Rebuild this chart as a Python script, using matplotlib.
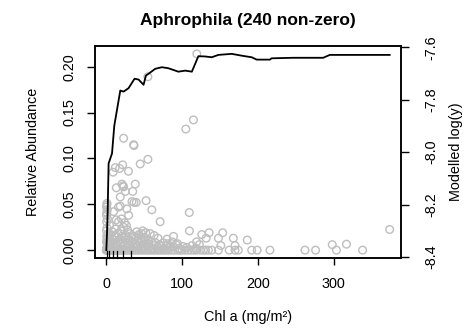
import matplotlib
matplotlib.use("Agg")
import matplotlib.pyplot as plt
import numpy as np

plt.rcParams["font.family"] = ["Liberation Sans", "DejaVu Sans"]
plt.rcParams["axes.unicode_minus"] = False

# ---- data ----
# non-zero abundances: scattered points above the dense band
chl_upper = [119.3, 54.8, 114.9, 104.8, 22.8, 36.0, 36.5, 54.8, 44.7, 21.5,
             11.8, 17.5, 29.2, 9.0, 38.2, 20.6, 22.0, 22.8, 13.2, 25.0,
             34.8, 18.4, 33.8, 36.5, 39.5, 52.4, 60.0, 9.6, 16.0, 18.4,
             27.0, 29.4, 13.0, 16.0, 20.0, 24.0, 26.5, 71.0, 109.4, 22.8,
             40.0, 46.5, 52.0, 57.9, 109.6, 125.9, 135.5, 131.6, 153.5, 147.8,
             167.5, 185.9, 151.0, 169.7, 122.8, 119.0, 298.0, 316.7, 373.7]
abund_upper = [0.214, 0.189, 0.142, 0.132, 0.122, 0.115, 0.114, 0.099, 0.094, 0.093,
               0.090, 0.089, 0.086, 0.085, 0.072, 0.072, 0.070, 0.069, 0.068, 0.064,
               0.064, 0.058, 0.053, 0.052, 0.052, 0.054, 0.044, 0.042, 0.047, 0.048,
               0.045, 0.038, 0.033, 0.031, 0.034, 0.030, 0.027, 0.031, 0.041, 0.025,
               0.020, 0.018, 0.019, 0.018, 0.021, 0.017, 0.019, 0.013, 0.019, 0.013,
               0.013, 0.011, 0.005, 0.005, 0.006, 0.009, 0.006, 0.0065, 0.0225]

# stack of points at chl ~ 0
chl_stack = [0.9, 0.5, 0.3, 1.2, 0.6, 0.2, 1.5, 0.4, 4.3, 0.8, 0.3, 2.5, 0.5, 1.0, 0.2]
abund_stack = [0.051, 0.049, 0.047, 0.044, 0.041, 0.038, 0.034, 0.031, 0.027, 0.024,
               0.021, 0.018, 0.015, 0.012, 0.009]

# dense band of small abundances
chl_band = [0.5, 2, 4, 6, 9, 12, 15, 18, 21, 24, 27, 30, 33, 36, 39, 42, 45, 48,
            51, 54, 57, 60, 64, 68, 72, 76, 80, 84, 88, 92, 96, 101, 106, 113, 118,
            1, 3, 5, 7.5, 10, 13, 16, 19, 22, 25, 28, 31, 34, 38, 41, 44, 47, 50,
            53, 56, 60, 65, 70, 75, 81, 87, 94,
            1.5, 4.5, 8, 11, 14, 17.5, 20, 23, 26, 29.5, 33, 37, 42, 46, 50, 55,
            8, 12, 15, 19, 28, 31, 34, 43, 48, 63, 68, 80, 88.6]
abund_band = [0.003, 0.005, 0.002, 0.004, 0.006, 0.003, 0.005, 0.002, 0.004, 0.006,
              0.003, 0.005, 0.002, 0.004, 0.003, 0.005, 0.002, 0.004, 0.003, 0.005,
              0.004, 0.002, 0.005, 0.003, 0.004, 0.002, 0.005, 0.003, 0.004, 0.006,
              0.002, 0.004, 0.003, 0.005, 0.002,
              0.008, 0.010, 0.007, 0.009, 0.011, 0.008, 0.010, 0.007, 0.009, 0.011,
              0.008, 0.010, 0.009, 0.007, 0.010, 0.008, 0.009, 0.011, 0.008, 0.007,
              0.009, 0.008, 0.006, 0.008, 0.007, 0.009, 0.007,
              0.013, 0.015, 0.012, 0.016, 0.014, 0.012, 0.015, 0.013, 0.016, 0.012,
              0.014, 0.015, 0.013, 0.012, 0.014, 0.011,
              0.020, 0.023, 0.018, 0.021, 0.022, 0.018, 0.016, 0.017, 0.021, 0.016,
              0.013, 0.012, 0.015]

# samples with zero abundance
chl_zero = [0, 0, 0.3, 0.6, 1, 1.5, 2, 3, 4, 5, 6.5, 8, 9.5, 11, 13, 15, 17, 19,
            21, 23.5, 26, 28.5, 31, 34, 37, 40, 43, 46, 49, 52, 55, 58, 61, 64, 67,
            70, 73, 76, 79, 82, 86, 90, 94, 97, 100, 104, 108, 112, 116, 119, 124,
            128, 131, 134.6, 139, 147.8, 162, 169.7, 174, 191.7, 199, 215.8, 262,
            276, 303.5, 338]

# modelled log(y) curve
curve_chl = [0, 0.9, 1.7, 3.0, 7.5, 10.5, 18.4, 22.8, 29.3, 37.2, 42.5, 49.1,
             52.2, 55.7, 64.5, 73.3, 82, 95, 104, 112.8, 121.4, 130.3, 139, 147.8,
             165.4, 178.6, 191.7, 198.3, 215.8, 218, 246.4, 286, 294.7, 373.7]
curve_logy = [-8.374, -8.310, -8.234, -8.043, -8.005, -7.899, -7.765, -7.769,
              -7.756, -7.720, -7.723, -7.743, -7.708, -7.701, -7.682, -7.676,
              -7.680, -7.693, -7.689, -7.693, -7.634, -7.635, -7.638, -7.629,
              -7.625, -7.632, -7.638, -7.647, -7.647, -7.642, -7.640, -7.640,
              -7.629, -7.629]

rug_chl = [1, 3, 8.5, 14, 21.5, 32.5]

x = np.array(chl_upper + chl_stack + chl_band + chl_zero)
y = np.array(abund_upper + abund_stack + abund_band + [0.0] * len(chl_zero))


def r_lim(lo, hi):
    pad = 0.04 * (hi - lo)
    return lo - pad, hi + pad


W, H = 474, 328
fig = plt.figure(figsize=(W / 100, H / 100), dpi=100)
ax = fig.add_axes([95 / W, 1 - 258 / H, 306 / W, 212 / H])

ax.scatter(x, y, s=30, facecolors="none", edgecolors="#bebebe", linewidths=1.0)
ax.set_xlim(*r_lim(0, max(x.max(), max(curve_chl))))
ax.set_ylim(*r_lim(0, y.max()))
ax.set_xticks([0, 100, 200, 300])
ax.set_yticks([0, 0.05, 0.10, 0.15, 0.20])
ax.set_yticklabels(["0.00", "0.05", "0.10", "0.15", "0.20"], rotation=90, va="center")
ax.tick_params(axis="x", length=5, width=1, pad=9, labelsize=10.4)
ax.tick_params(axis="y", length=5.5, width=1, pad=7.5, labelsize=10.4)
for s in ax.spines.values():
    s.set_linewidth(1.1)

# rug along bottom
for r in rug_chl:
    ax.plot([r, r], [0, 0.032], transform=ax.get_xaxis_transform(),
            color="black", lw=0.9, clip_on=False)

ax2 = ax.twinx()
ax2.plot(curve_chl, curve_logy, color="black", lw=1.3)
ax2.set_ylim(*r_lim(min(curve_logy), max(curve_logy)))
ax2.set_yticks([-8.4, -8.2, -8.0, -7.8, -7.6])
ax2.set_yticklabels(["-8.4", "-8.2", "-8.0", "-7.8", "-7.6"], rotation=90, va="center")
ax2.tick_params(axis="y", length=5.5, width=1, pad=11, labelsize=10.4)
for s in ax2.spines.values():
    s.set_linewidth(1.1)

fig.text(248 / W, 1 - 20 / H, "Aphrophila (240 non-zero)", ha="center", va="center",
         fontsize=12.5, fontweight="bold")
fig.text(248 / W, 1 - 317 / H, "Chl a (mg/m²)", ha="center", va="center", fontsize=10.4)
fig.text(33 / W, 1 - 152 / H, "Relative Abundance", ha="center", va="center",
         rotation=90, fontsize=10.4)
fig.text(456 / W, 1 - 152 / H, "Modelled log(y)", ha="center", va="center",
         rotation=90, fontsize=10.4)

fig.savefig("out.png", dpi=100)
